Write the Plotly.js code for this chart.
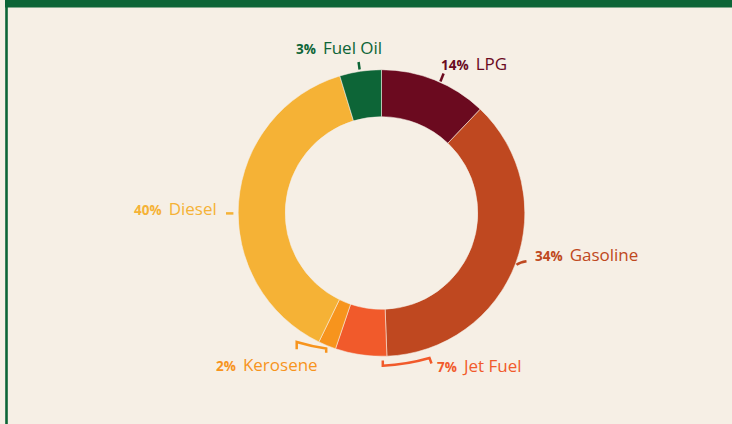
<!DOCTYPE html>
<html>
<head>
<meta charset="utf-8">
<script src="https://cdn.plot.ly/plotly-3.0.1.min.js"></script>
<style>html,body{margin:0;padding:0;background:#f6efe5;}#chart{width:732px;height:424px;}</style>
</head>
<body>
<div id="chart"></div>
<script>
// Data
var categories = ["LPG", "Gasoline", "Jet Fuel", "Kerosene", "Diesel", "Fuel Oil"];
var values = [12.1, 37.3, 5.8, 2.0, 38.1, 4.7];          // slice sizes
var pctLabels = ["14%", "34%", "7%", "2%", "40%", "3%"];   // printed percentages
var colors = ["#6b0a1f", "#bf4820", "#f15a2b", "#f7941d", "#f5b236", "#0d6537"];

var W = 732, H = 424;
function px(x){ return x / W; }
function py(y){ return 1 - y / H; }

// donut geometry (layout)
var cx = 381.5, cy = 213, R = 143.3;

var trace = {
  type: "pie",
  labels: categories,
  values: values,
  sort: false,
  direction: "clockwise",
  rotation: 0,
  hole: 0.672,
  textinfo: "none",
  hoverinfo: "none",
  marker: { colors: colors, line: { color: "rgba(246,239,229,0.55)", width: 1 } },
  domain: { x: [px(cx - R), px(cx + R)], y: [py(cy + R), py(cy - R)] },
  showlegend: false
};

// label placement (layout)
var labelPos = {
  "LPG":      [440, 63.5],
  "Gasoline": [534, 255],
  "Jet Fuel": [436, 365.5],
  "Kerosene": [215, 364],
  "Diesel":   [133, 208.5],
  "Fuel Oil": [295, 47.5]
};

var annotations = categories.map(function(c, i){
  var p = labelPos[c];
  return {
    xref: "paper", yref: "paper",
    x: px(p[0]), y: py(p[1]),
    xanchor: "left", yanchor: "middle",
    showarrow: false,
    text: "<b><span style='font-size:13.5px'>" + pctLabels[i] + "&nbsp; </span></b>" + c,
    font: { family: "Open Sans, Noto Sans, sans-serif", size: 17, color: colors[i] },
    borderpad: 0
  };
});

function pathShape(d, color){
  return { type: "path", xref: "paper", yref: "paper", path: d,
           line: { color: color, width: 2.5 } };
}
function P(pts){
  return pts.map(function(s){
    return s[0] + " " + s.slice(1).map(function(v, k){ return (k % 2 === 0 ? px(v) : py(v)).toFixed(5); }).join(" ");
  }).join(" ");
}

var shapes = [
  // frame
  { type: "rect", xref: "paper", yref: "paper", x0: px(5), x1: px(W), y0: py(7.5), y1: py(0),
    fillcolor: "#0d6537", line: { width: 0 } },
  { type: "rect", xref: "paper", yref: "paper", x0: px(5.2), x1: px(7.8), y0: py(H), y1: py(0),
    fillcolor: "#0d6537", line: { width: 0 } },
  // ticks / brackets
  pathShape(P([["M", 358.6, 62], ["L", 359.6, 69.5]]), colors[5]),
  pathShape(P([["M", 443.6, 73.5], ["L", 440.4, 81.5]]), colors[0]),
  pathShape(P([["M", 516.5, 264.8], ["Q", 520, 262.2, 526.5, 261.3]]), colors[1]),
  pathShape(P([["M", 226, 213.4], ["L", 233.4, 213.4]]), colors[4]),
  pathShape(P([["M", 296.7, 349.3], ["L", 296.7, 342], ["Q", 312, 346.5, 326.2, 348.6], ["L", 326.2, 352.8]]), colors[3]),
  pathShape(P([["M", 382.8, 360.5], ["L", 382.8, 365.8], ["Q", 407, 364.5, 429.5, 358], ["L", 431.5, 363.5]]), colors[2])
];

var layout = {
  width: W, height: H,
  margin: { l: 0, r: 0, t: 0, b: 0 },
  paper_bgcolor: "#f6efe5",
  plot_bgcolor: "#f6efe5",
  showlegend: false,
  annotations: annotations,
  shapes: shapes
};

Plotly.newPlot("chart", [trace], layout, { displayModeBar: false, staticPlot: true });
</script>
</body>
</html>
